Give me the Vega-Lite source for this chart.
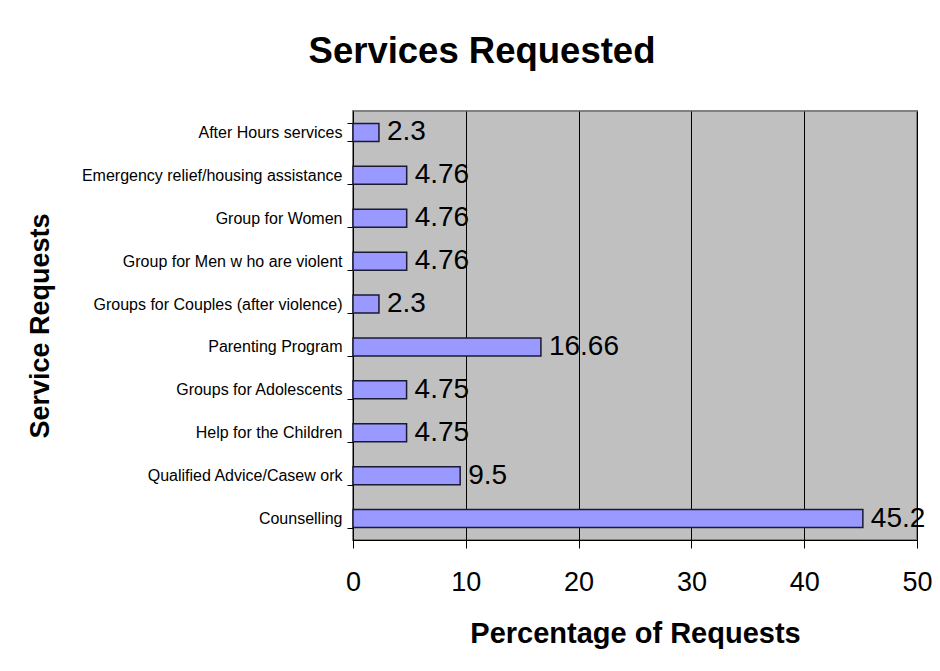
{
  "$schema": "https://vega.github.io/schema/vega-lite/v6.json",
  "width": 564,
  "height": 429,
  "autosize": {"type": "none"},
  "padding": {"left": 353, "top": 111, "right": 23, "bottom": 131},
  "background": "white",
  "title": {
    "text": "Services Requested",
    "font": "Liberation Sans",
    "fontSize": 36.5,
    "fontWeight": "bold",
    "color": "black",
    "anchor": "middle",
    "frame": "group",
    "baseline": "alphabetic",
    "offset": 4,
    "dx": -153
  },
  "config": {
    "font": "Liberation Sans",
    "view": {"fill": "#C0C0C0", "stroke": "#808080", "strokeWidth": 2}
  },
  "data": {
    "values": [
      {"service": "After Hours services", "pct": 2.3},
      {"service": "Emergency relief/housing assistance", "pct": 4.76},
      {"service": "Group for Women", "pct": 4.76},
      {"service": "Group for Men w ho are violent", "pct": 4.76},
      {"service": "Groups for Couples (after violence)", "pct": 2.3},
      {"service": "Parenting Program", "pct": 16.66},
      {"service": "Groups for Adolescents", "pct": 4.75},
      {"service": "Help for the Children", "pct": 4.75},
      {"service": "Qualified Advice/Casew ork", "pct": 9.5},
      {"service": "Counselling", "pct": 45.2}
    ]
  },
  "encoding": {
    "y": {
      "field": "service",
      "type": "nominal",
      "sort": null,
      "scale": {"paddingInner": 0.58, "paddingOuter": 0.29},
      "axis": {
        "title": "Service Requests",
        "titleFont": "Liberation Sans",
        "titleFontSize": 27,
        "titleFontWeight": "bold",
        "titleColor": "black",
        "titleX": -313,
        "titleY": 214.5,
        "titleAngle": -90,
        "titleAlign": "center",
        "titleBaseline": "middle",
        "labelFont": "Liberation Sans",
        "labelFontSize": 16,
        "labelColor": "black",
        "labelPadding": 5,
        "tickSize": 6,
        "tickColor": "black",
        "tickBand": "extent",
        "domainColor": "black",
        "domainWidth": 1,
        "grid": false,
        "labelLimit": 400
      }
    },
    "x": {
      "field": "pct",
      "type": "quantitative",
      "scale": {"domain": [0, 50], "nice": false},
      "axis": {
        "title": "Percentage of Requests",
        "titleFont": "Liberation Sans",
        "titleFontSize": 29,
        "titleFontWeight": "bold",
        "titleColor": "black",
        "titlePadding": 24,
        "values": [0, 10, 20, 30, 40, 50],
        "labelFont": "Liberation Sans",
        "labelFontSize": 27,
        "labelColor": "black",
        "labelPadding": 21,
        "labelFlush": false,
        "tickSize": 8,
        "tickColor": "black",
        "domainColor": "black",
        "domainWidth": 1,
        "grid": true,
        "gridColor": "black",
        "gridWidth": 1,
        "gridOpacity": 1
      }
    }
  },
  "layer": [
    {
      "mark": {"type": "bar", "color": "#9999FF", "stroke": "#1a1a33", "strokeWidth": 1.5}
    },
    {
      "mark": {"type": "text", "align": "left", "baseline": "middle", "dx": 8, "fontSize": 28, "font": "Liberation Sans", "color": "black"},
      "encoding": {"text": {"field": "pct", "type": "quantitative"}}
    }
  ]
}
